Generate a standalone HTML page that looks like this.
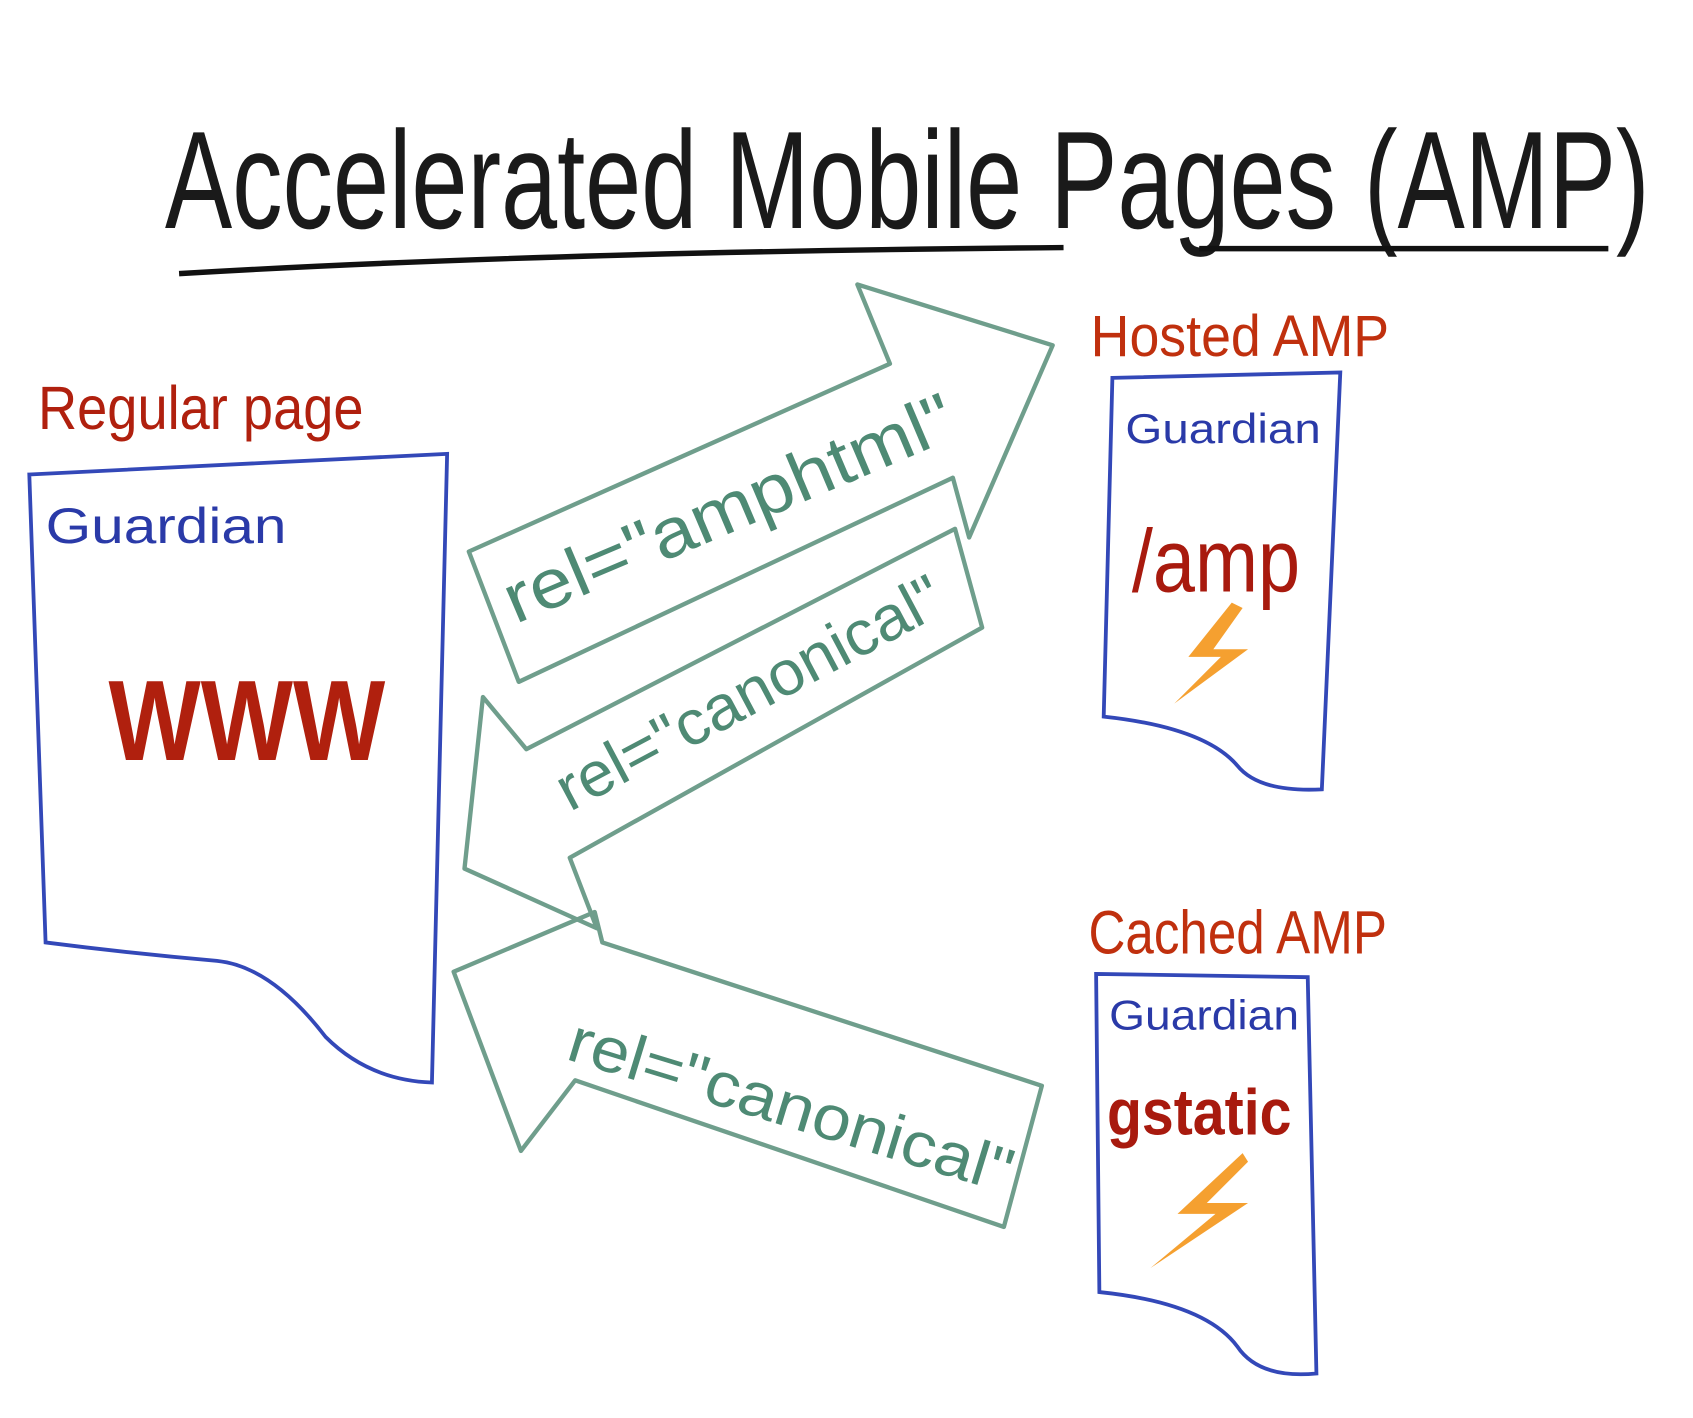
<!DOCTYPE html>
<html><head><meta charset="utf-8"><style>html,body{margin:0;padding:0;background:#fff;}svg{display:block}</style></head>
<body>
<svg width="1693" height="1418" viewBox="0 0 1560 1306" preserveAspectRatio="none" xmlns="http://www.w3.org/2000/svg">
<rect width="1560" height="1306" fill="#fff"/>
<g font-family="Liberation Sans, sans-serif">
<text x="152" y="210" font-size="128" fill="#1a1a1a" textLength="1368" lengthAdjust="spacingAndGlyphs">Accelerated Mobile Pages (AMP)</text>
<path d="M165 252 Q500 232 980 228 M1105 229 L1482 229" stroke="#111" stroke-width="5" fill="none"/>

<text x="35" y="395" font-size="56" fill="#b0200e" textLength="300" lengthAdjust="spacingAndGlyphs">Regular page</text>
<path d="M27 437 L412 418 L398 997 Q340 995 300 955 Q250 890 200 885 Q120 878 42 868 Z" fill="none" stroke="#3348b8" stroke-width="3.5"/>
<text x="42" y="500" font-size="46" fill="#2a3aa8" textLength="222" lengthAdjust="spacingAndGlyphs">Guardian</text>
<text x="100" y="700" font-size="105" fill="#b0200e" font-weight="bold" textLength="255" lengthAdjust="spacingAndGlyphs">WWW</text>

<text x="1005" y="328" font-size="54" fill="#c0300e" textLength="275" lengthAdjust="spacingAndGlyphs">Hosted AMP</text>
<path d="M1025 348 L1235 343 L1218 727 Q1160 730 1140 705 Q1110 670 1017 660 Z" fill="none" stroke="#3348b8" stroke-width="3.5"/>
<text x="1037" y="408" font-size="38" fill="#2a3aa8" textLength="180" lengthAdjust="spacingAndGlyphs">Guardian</text>
<text x="1043" y="545" font-size="82" fill="#a81a0e" textLength="155" lengthAdjust="spacingAndGlyphs">/amp</text>
<polygon points="1135,555 1095,605 1125,605 1082,648 1150,598 1118,598 1145,560" fill="#f5a030"/>

<text x="1003" y="878" font-size="56" fill="#c0300e" textLength="275" lengthAdjust="spacingAndGlyphs">Cached AMP</text>
<path d="M1010 897 L1205 900 L1213 1265 Q1160 1270 1140 1240 Q1110 1200 1013 1190 Z" fill="none" stroke="#3348b8" stroke-width="3.5"/>
<text x="1022" y="948" font-size="38" fill="#2a3aa8" textLength="175" lengthAdjust="spacingAndGlyphs">Guardian</text>
<text x="1020" y="1045" font-size="60" fill="#a81a0e" font-weight="bold" textLength="170" lengthAdjust="spacingAndGlyphs">gstatic</text>
<polygon points="1145,1062 1085,1118 1120,1118 1060,1168 1150,1108 1112,1108 1150,1070" fill="#f5a030"/>

<g fill="none" stroke="#6f9e8c" stroke-width="4" stroke-linejoin="round">
<path d="M432 508 L820 335 L790 262 L970 318 L893 495 L878 440 L478 628 Z"/>
<path d="M905 578 L525 790 L550 855 L428 800 L445 642 L485 690 L880 487 Z"/>
<path d="M960 1000 L925 1130 L530 995 L480 1060 L418 895 L548 840 L555 868 Z"/>
</g>
<g fill="#4e8a74">
<text x="0" y="0" font-size="64" transform="translate(475,575) rotate(-23)" textLength="445" lengthAdjust="spacingAndGlyphs">rel="amphtml"</text>
<text x="0" y="0" font-size="58" transform="translate(525,748) rotate(-28)" textLength="395" lengthAdjust="spacingAndGlyphs">rel="canonical"</text>
<text x="0" y="0" font-size="58" transform="translate(520,975) rotate(17)" textLength="425" lengthAdjust="spacingAndGlyphs">rel="canonical"</text>
</g>
</g>
</svg>
</body></html>
